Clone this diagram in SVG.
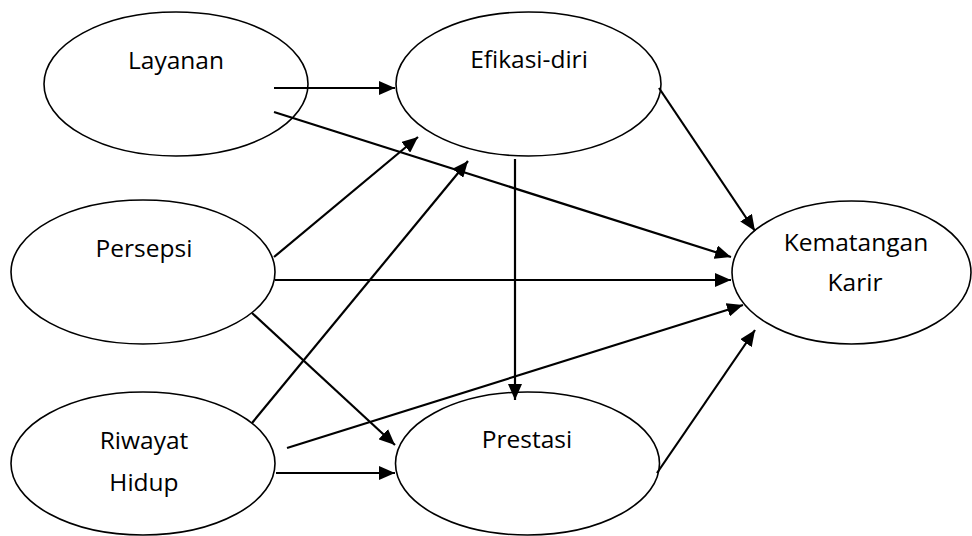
<svg xmlns="http://www.w3.org/2000/svg" width="972" height="536" viewBox="0 0 972 536">
<style>
.node ellipse{fill:#fff;stroke:#000;stroke-width:1.6}
.node text{font-family:"Open Sans","Liberation Sans",sans-serif;font-size:24.5px;fill:#000;text-anchor:middle}
.edge{stroke:#000;stroke-width:2.2;fill:none;marker-end:url(#arr)}
</style>
<defs>
<marker id="arr" markerUnits="userSpaceOnUse" markerWidth="16" markerHeight="14" refX="16" refY="7" orient="auto">
<path d="M0,0 L16,7 L0,14 z" fill="#000"/>
</marker>
</defs>
<rect width="972" height="536" fill="#fff"/>
<g id="layanan" class="node"><ellipse cx="176" cy="84" rx="132" ry="72"/><text x="176" y="69">Layanan</text></g>
<g id="efikasi" class="node"><ellipse cx="528.5" cy="84" rx="132.5" ry="72"/><text x="529" y="68">Efikasi-diri</text></g>
<g id="persepsi" class="node"><ellipse cx="143" cy="272" rx="132" ry="72"/><text x="144" y="257">Persepsi</text></g>
<g id="kematangan" class="node"><ellipse cx="851.5" cy="272.5" rx="119.5" ry="71.5"/><text x="856" y="251">Kematangan</text><text x="855" y="291">Karir</text></g>
<g id="riwayat" class="node"><ellipse cx="143" cy="463.5" rx="132" ry="71.5"/><text x="144" y="449">Riwayat</text><text x="144" y="491">Hidup</text></g>
<g id="prestasi" class="node"><ellipse cx="527.5" cy="463.5" rx="132" ry="71.5"/><text x="527" y="448">Prestasi</text></g>
<g id="connectors">
<line class="edge" x1="274" y1="88" x2="395" y2="88"/>
<line class="edge" x1="274" y1="112" x2="731" y2="257"/>
<line class="edge" x1="274" y1="257" x2="418" y2="137"/>
<line class="edge" x1="252" y1="423" x2="468" y2="161"/>
<line class="edge" x1="275" y1="280" x2="731" y2="280"/>
<line class="edge" x1="252" y1="313" x2="395" y2="445"/>
<line class="edge" x1="515" y1="159" x2="515" y2="400"/>
<line class="edge" x1="659" y1="88" x2="755" y2="231"/>
<line class="edge" x1="287" y1="448" x2="743" y2="305"/>
<line class="edge" x1="276" y1="473" x2="395" y2="473"/>
<line class="edge" x1="657" y1="473" x2="755" y2="330"/>
</g>
</svg>
